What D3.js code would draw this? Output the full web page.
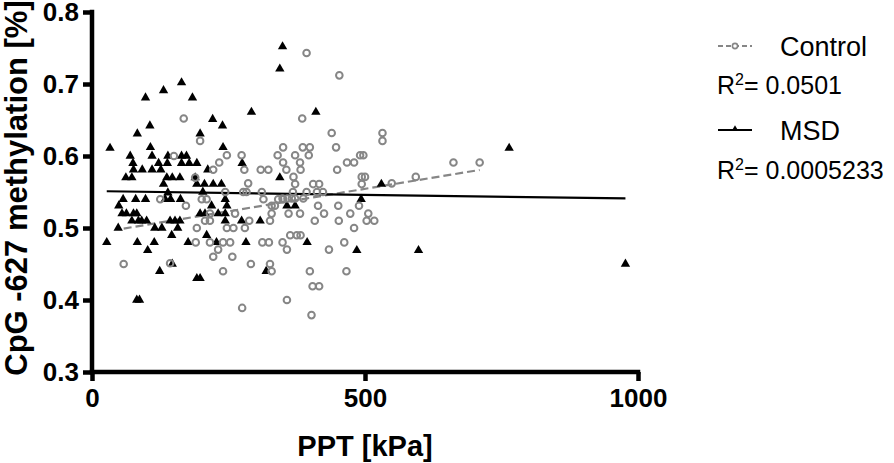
<!DOCTYPE html>
<html><head><meta charset="utf-8">
<script src="https://cdn.jsdelivr.net/npm/d3@7"></script>
<style>
html,body{margin:0;padding:0;background:#fff;}
text{font-family:"Liberation Sans",Arial,Helvetica,sans-serif;}
</style></head>
<body><svg id="c" width="894" height="463"></svg>
<script>
// ---- data ----
const controlX = [168,198,150,247,274,350,340,350,233,222,279,309,323,356,189,286,
  393,453,385,439,532,532,386,399,447,372,397,491,497,381,467,480,662,710,382,449,369,494,500,593,372,405,416,494,549,
  244,277,283,311,125,201,210,314,341,350,172,329,335,216,262,329,207,216,288,326,192,247,259,280,190,216,240,253,312,324,349,231,357,222,257,58,143,291,326,240,329,357,275,
  368,393,412,423,349,358,366,372,387,414,451,489,360,381,425,473,506,408,452,503,517,480,363,375,382,462,434,399,466,404,416,402];
const controlY = [0.652,0.621,0.600,0.601,0.601,0.612,0.601,0.591,0.591,0.581,0.581,0.581,0.581,0.581,0.570,0.562,
  0.743,0.712,0.652,0.632,0.632,0.621,0.612,0.612,0.612,0.601,0.601,0.601,0.601,0.591,0.591,0.591,0.591,0.591,0.581,0.581,0.571,0.571,0.571,0.571,0.561,0.561,0.561,0.561,0.562,
  0.550,0.550,0.550,0.550,0.540,0.540,0.540,0.540,0.540,0.540,0.531,0.531,0.531,0.520,0.520,0.520,0.510,0.510,0.510,0.510,0.500,0.500,0.500,0.500,0.480,0.480,0.480,0.480,0.480,0.480,0.480,0.470,0.470,0.460,0.460,0.450,0.451,0.450,0.450,0.440,0.440,0.400,0.389,
  0.550,0.550,0.550,0.550,0.541,0.541,0.541,0.541,0.541,0.531,0.531,0.531,0.520,0.520,0.520,0.520,0.520,0.510,0.510,0.510,0.510,0.500,0.490,0.490,0.490,0.480,0.470,0.440,0.440,0.419,0.419,0.379];
const msdX = [349,344,164,131,98,184,292,221,106,239,83,198,33,107,240,70,110,139,164,173,75,122,138,164,178,192,275,76,92,110,126,212,62,73,137,147,161,344,189,131,192,206,222,237,
  410,530,
  139,203,57,80,98,134,144,162,244,49,219,247,357,55,63,76,82,198,207,231,244,73,85,91,100,143,152,161,244,274,308,48,115,128,157,146,210,27,83,114,176,228,282,102,147,124,319,192,198,82,87,
  493,372,394,485,598,764,977];
const msdY = [0.752,0.721,0.702,0.691,0.681,0.681,0.661,0.651,0.642,0.642,0.631,0.631,0.611,0.612,0.612,0.600,0.600,0.600,0.600,0.600,0.590,0.590,0.590,0.590,0.590,0.590,0.590,0.581,0.581,0.581,0.581,0.581,0.570,0.570,0.570,0.570,0.570,0.570,0.570,0.561,0.561,0.561,0.561,0.561,
  0.661,0.561,
  0.549,0.550,0.540,0.540,0.540,0.540,0.540,0.540,0.540,0.531,0.531,0.531,0.531,0.520,0.520,0.520,0.520,0.520,0.520,0.520,0.520,0.510,0.510,0.510,0.510,0.510,0.510,0.510,0.510,0.510,0.510,0.500,0.500,0.500,0.500,0.490,0.490,0.480,0.480,0.480,0.480,0.480,0.480,0.469,0.450,0.440,0.440,0.430,0.430,0.400,0.400,
  0.540,0.531,0.480,0.469,0.469,0.611,0.450];
// fitted lines (slope, intercept) as drawn in the reference
const controlFit = {slope: 0.0001248, intercept: 0.492, r2: "0.0501"};
const msdFit = {slope: -0.0000105, intercept: 0.5513, r2: "0.0005233"};
const xTicks = [0, 500, 1000];
const yTicks = [0.3, 0.4, 0.5, 0.6, 0.7, 0.8];
const seriesNames = ["Control", "MSD"];

// ---- layout ----
const svg = d3.select("#c");
const x = d3.scaleLinear().domain([0, 1000]).range([92, 638]);
const y = d3.scaleLinear().domain([0.3, 0.8]).range([372, 12]);
const grey = "#868686";

// axes
const gx = svg.append("g").attr("transform", "translate(0,372)")
  .call(d3.axisBottom(x).tickValues(xTicks).tickSize(9).tickPadding(8).tickFormat(d3.format("d")));
const gy = svg.append("g").attr("transform", "translate(92,0)")
  .call(d3.axisLeft(y).tickValues(yTicks).tickSize(9).tickPadding(4).tickFormat(d3.format(".1f")));
[gx, gy].forEach(g => {
  g.select(".domain").attr("stroke", "#000").attr("stroke-width", 4.5);
  g.selectAll(".tick line").attr("stroke", "#000").attr("stroke-width", 4.5);
  g.selectAll(".tick text").attr("fill", "#000").attr("font-size", 26).attr("font-weight", "bold")
   .attr("font-family", '"Liberation Sans",Arial,sans-serif');
});
gy.selectAll(".tick text").attr("dy", "0.34em");
gx.select(".domain").attr("d", `M${x(0)-2.25},0H${x(1000)+2.25}`);
gy.select(".domain").attr("d", `M0,${y(0.3)+2.25}V${y(0.8)-2.25}`);

// axis titles
svg.append("text").attr("x", 365).attr("y", 456).attr("text-anchor", "middle")
  .attr("font-size", 29).attr("font-weight", "bold").text("PPT [kPa]");
svg.append("text").attr("transform", "translate(27,188) rotate(-90)").attr("text-anchor", "middle")
  .attr("font-size", 31).attr("font-weight", "bold").text("CpG -627 methylation [%]");

// regression lines
function fitLine(xs, fit, color, dash) {
  const ext = d3.extent(xs);
  svg.append("line")
    .attr("x1", x(ext[0])).attr("y1", y(fit.intercept + fit.slope * ext[0]))
    .attr("x2", x(ext[1])).attr("y2", y(fit.intercept + fit.slope * ext[1]))
    .attr("stroke", color).attr("stroke-width", 2.2).attr("stroke-dasharray", dash);
}
fitLine(controlX, controlFit, grey, "8,4");
fitLine(msdX, msdFit, "#000", null);

// points
const tri = d3.symbol().type(d3.symbolTriangle).size(38);
svg.append("g").selectAll("path").data(msdX.map((v, i) => [v, msdY[i]])).join("path")
  .attr("d", tri).attr("transform", d => `translate(${x(d[0])},${y(d[1])})`).attr("fill", "#000");
svg.append("g").selectAll("circle").data(controlX.map((v, i) => [v, controlY[i]])).join("circle")
  .attr("cx", d => x(d[0])).attr("cy", d => y(d[1])).attr("r", 3.3)
  .attr("fill", "none").attr("stroke", grey).attr("stroke-width", 2);

// legend
const lg = svg.append("g");
lg.append("line").attr("x1", 718).attr("x2", 752).attr("y1", 46).attr("y2", 46)
  .attr("stroke", grey).attr("stroke-width", 1.8).attr("stroke-dasharray", "5,3");
lg.append("circle").attr("cx", 735).attr("cy", 46).attr("r", 2.6).attr("fill", "#fff").attr("stroke", grey).attr("stroke-width", 1.6);
lg.append("text").attr("x", 780).attr("y", 56).attr("font-size", 27).text(seriesNames[0]);
const r1 = lg.append("text").attr("x", 717).attr("y", 94).attr("font-size", 25);
r1.append("tspan").text("R");
r1.append("tspan").attr("dy", -9).attr("font-size", 16).text("2");
r1.append("tspan").attr("dy", 9).text("= " + controlFit.r2);

lg.append("line").attr("x1", 718).attr("x2", 752).attr("y1", 130).attr("y2", 130)
  .attr("stroke", "#000").attr("stroke-width", 1.8);
lg.append("path").attr("d", d3.symbol().type(d3.symbolTriangle).size(18))
  .attr("transform", "translate(735,129)").attr("fill", "#000");
lg.append("text").attr("x", 780).attr("y", 140).attr("font-size", 27).text(seriesNames[1]);
const r2 = lg.append("text").attr("x", 717).attr("y", 179).attr("font-size", 25);
r2.append("tspan").text("R");
r2.append("tspan").attr("dy", -9).attr("font-size", 16).text("2");
r2.append("tspan").attr("dy", 9).text("= " + msdFit.r2);
</script></body></html>
